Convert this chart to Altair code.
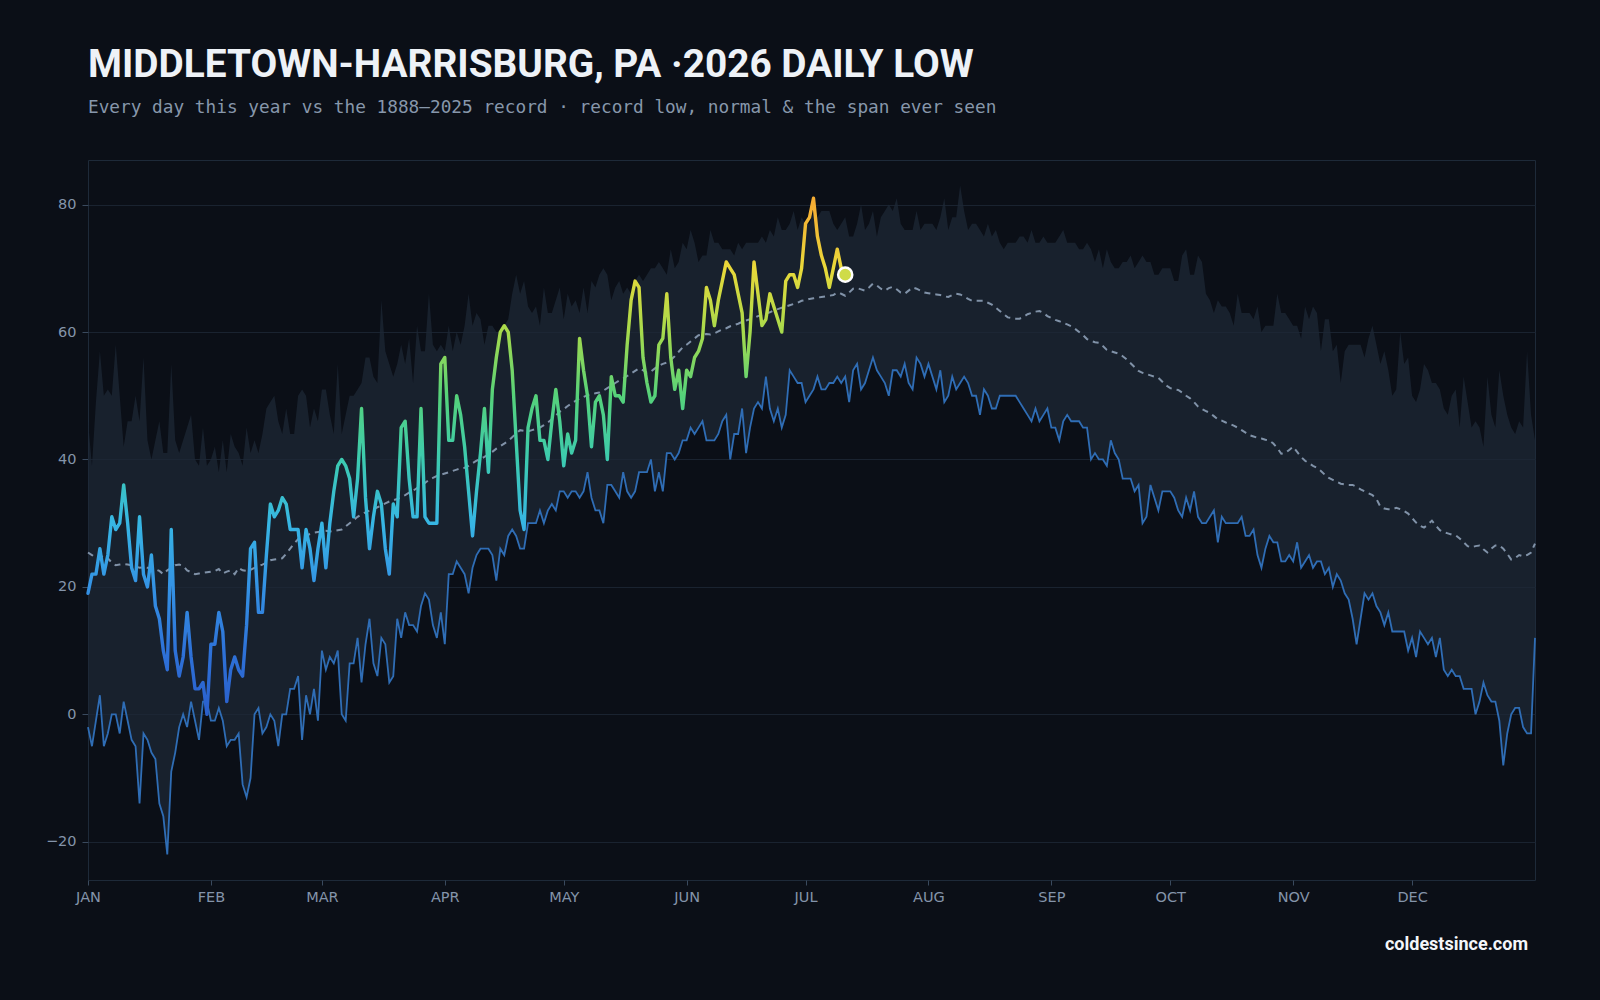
import altair as alt
import pandas as pd

TITLE = "MIDDLETOWN-HARRISBURG, PA ·2026 DAILY LOW"
SUBTITLE = "Every day this year vs the 1888–2025 record · record low, normal & the span ever seen"
FOOTER = "coldestsince.com"

MONTHS = ["JAN", "FEB", "MAR", "APR", "MAY", "JUN", "JUL", "AUG", "SEP", "OCT", "NOV", "DEC"]
MONTH_START = [0, 31, 59, 90, 120, 151, 181, 212, 243, 273, 304, 334]
Y_TICKS = [-20, 0, 20, 40, 60, 80]

# warmest low ever recorded for each day of year (top of the span)
RECORD_HIGH = [
    46, 39, 49, 57, 50, 51, 50, 58, 50, 42, 46, 46, 50, 46, 56, 43, 40, 43, 46, 41,
    41, 55, 43, 41, 43, 45, 47, 40, 39, 45, 39, 40, 42, 38, 43, 38, 44, 42, 41, 39,
    45, 41, 43, 41, 44, 48, 49, 50, 46, 44, 48, 44, 44, 50, 51, 50, 45, 48, 46, 51,
    51, 47, 44, 55, 44, 47, 50, 50, 51, 52, 56, 56, 53, 52, 65, 57, 55, 53, 55, 58,
    55, 59, 52, 61, 57, 57, 66, 58, 57, 58, 57, 61, 57, 60, 58, 61, 66, 61, 63, 62,
    58, 61, 61, 60, 60, 61, 62, 66, 69, 66, 68, 64, 63, 64, 61, 67, 63, 63, 65, 67,
    62, 66, 64, 65, 63, 67, 63, 68, 67, 69, 70, 69, 65, 67, 68, 66, 67, 66, 68, 69,
    68, 69, 70, 70, 71, 70, 69, 73, 70, 71, 74, 73, 76, 74, 71, 72, 72, 76, 74, 74,
    73, 73, 73, 72, 74, 73, 74, 74, 74, 74, 75, 74, 76, 75, 78, 76, 76, 77, 79, 76,
    78, 77, 77, 79, 78, 79, 79, 79, 77, 76, 77, 78, 75, 75, 77, 80, 76, 77, 79, 75,
    78, 79, 80, 79, 81, 77, 76, 76, 76, 79, 76, 77, 77, 77, 76, 78, 81, 76, 78, 78,
    83, 79, 76, 77, 77, 76, 75, 77, 75, 76, 74, 73, 74, 74, 74, 75, 75, 74, 76, 74,
    74, 75, 74, 74, 74, 75, 76, 74, 74, 74, 73, 73, 74, 73, 71, 73, 70, 73, 71, 70,
    70, 71, 71, 72, 70, 71, 72, 71, 71, 69, 69, 70, 70, 70, 68, 68, 72, 73, 69, 69,
    72, 71, 66, 65, 63, 65, 64, 64, 63, 61, 66, 63, 63, 63, 62, 64, 60, 61, 61, 61,
    66, 63, 63, 62, 61, 61, 59, 64, 62, 64, 63, 57, 62, 62, 57, 58, 52, 57, 58, 58,
    58, 58, 56, 59, 61, 58, 55, 57, 54, 50, 51, 60, 55, 56, 50, 49, 51, 55, 54, 52,
    52, 51, 48, 47, 50, 51, 45, 53, 49, 45, 46, 45, 42, 53, 47, 45, 54, 50, 47, 45,
    44, 46, 45, 57, 47, 43,
]

# record low for each day of year
RECORD_LOW = [
    -2, -5, -1, 3, -5, -3, 0, 0, -3, 2, -1, -4, -5, -14, -3, -4, -6, -7, -14, -16,
    -22, -9, -6, -2, 0, -2, 2, -1, -4, 2, 2, -1, -1, 1, -1, -5, -4, -4, -3, -11,
    -13, -10, 0, 1, -3, -2, 0, -1, -5, 0, 0, 4, 4, 6, -4, 3, 0, 4, -1, 10,
    7, 9, 8, 10, 0, -1, 8, 8, 12, 5, 11, 15, 8, 6, 12, 11, 5, 6, 15, 12,
    16, 14, 14, 13, 17, 19, 18, 14, 12, 16, 11, 22, 22, 24, 23, 22, 19, 23, 25, 26,
    26, 26, 25, 21, 26, 25, 28, 29, 28, 26, 26, 30, 30, 30, 32, 30, 32, 33, 32, 35,
    35, 34, 35, 35, 34, 35, 38, 34, 32, 32, 30, 36, 36, 35, 34, 38, 35, 34, 35, 38,
    38, 38, 40, 35, 38, 35, 41, 41, 40, 41, 43, 43, 45, 44, 45, 46, 43, 43, 43, 44,
    46, 47, 40, 44, 44, 48, 41, 45, 48, 49, 48, 53, 48, 46, 48, 45, 47, 54, 53, 52,
    52, 49, 50, 51, 53, 51, 51, 52, 52, 53, 52, 53, 49, 54, 55, 51, 52, 54, 56, 54,
    53, 52, 50, 54, 54, 53, 55, 52, 51, 56, 55, 53, 55, 53, 51, 54, 49, 50, 53, 51,
    52, 53, 52, 50, 50, 47, 51, 50, 48, 48, 50, 50, 50, 50, 50, 49, 48, 47, 46, 48,
    46, 47, 48, 45, 45, 43, 46, 47, 46, 46, 46, 45, 45, 40, 41, 40, 40, 39, 43, 41,
    40, 37, 37, 37, 35, 36, 30, 31, 36, 34, 32, 35, 35, 35, 34, 32, 31, 34, 32, 35,
    31, 30, 30, 31, 32, 27, 31, 30, 30, 30, 30, 31, 28, 28, 29, 25, 23, 26, 28, 27,
    27, 24, 24, 25, 24, 27, 23, 24, 25, 23, 24, 24, 22, 23, 20, 22, 21, 19, 18, 15,
    11, 15, 19, 18, 19, 17, 16, 14, 16, 13, 13, 13, 13, 10, 12, 9, 13, 12, 11, 12,
    9, 12, 7, 6, 7, 6, 6, 4, 4, 4, 0, 2, 5, 3, 2, 2, -1, -8, -3, 0,
    1, 1, -2, -3, -3, 12,
]

# normal daily low
NORMAL = [
    25.4, 25.0, 24.6, 24.5, 25.0, 24.5, 23.8, 23.4, 23.5, 23.6,
    23.5, 23.4, 23.2, 23.0, 23.1, 23.0, 22.9, 22.8, 22.5, 22.0,
    22.6, 23.0, 23.4, 23.5, 23.3, 22.6, 22.3, 22.0, 22.1, 22.2,
    22.3, 22.4, 22.5, 22.8, 22.1, 22.4, 22.6, 22.0, 23.0, 22.6,
    22.5, 22.7, 23.0, 23.3, 23.5, 23.8, 24.2, 24.3, 24.4, 24.5,
    25.2, 26.0, 26.8, 27.5, 27.8, 28.0, 28.3, 28.5, 28.6, 28.8,
    28.8, 28.7, 28.8, 28.9, 29.0, 29.5, 30.0, 30.5, 31.0, 31.4,
    31.7, 32.0, 32.2, 32.5, 32.8, 33.1, 33.4, 33.6, 33.8, 34.1,
    34.4, 34.8, 35.1, 35.5, 35.9, 36.3, 36.8, 37.1, 37.4, 37.6,
    37.8, 38.0, 38.2, 38.4, 38.6, 38.7, 39.0, 39.4, 39.8, 40.1,
    40.4, 40.8, 41.2, 41.7, 42.1, 42.5, 42.9, 43.5, 44.1, 44.6,
    44.5, 44.4, 44.6, 44.8, 45.0, 45.4, 45.8, 46.3, 46.9, 47.5,
    47.9, 48.4, 48.8, 49.2, 49.6, 49.8, 50.1, 50.2, 50.4, 50.5,
    50.8, 51.2, 51.6, 52.0, 52.4, 52.7, 53.1, 53.5, 53.9, 54.3,
    54.0, 53.6, 53.8, 54.3, 54.7, 55.0, 55.2, 55.6, 56.2, 56.9,
    57.6, 58.0, 58.5, 59.0, 59.5, 59.6, 59.7, 59.6, 59.8, 60.1,
    60.4, 60.6, 60.9, 61.1, 61.3, 61.6, 61.8, 62.0, 62.2, 62.5,
    62.7, 62.9, 63.1, 63.4, 63.6, 63.8, 64.0, 64.2, 64.4, 64.6,
    64.9, 65.0, 65.2, 65.3, 65.4, 65.5, 65.6, 65.7, 65.8, 66.2,
    66.0, 65.7, 66.2, 66.8, 66.9, 66.7, 66.5, 67.0, 67.6, 67.3,
    66.8, 66.5, 66.9, 67.1, 66.7, 66.2, 66.0, 66.5, 67.0, 66.8,
    66.5, 66.2, 66.1, 66.0, 65.9, 65.8, 65.6, 65.5, 65.8, 66.0,
    65.9, 65.6, 65.2, 64.9, 64.9, 64.9, 64.9, 64.6, 64.3, 63.8,
    63.3, 62.8, 62.3, 62.2, 62.1, 62.1, 62.4, 62.8, 63.0, 63.2,
    63.3, 63.0, 62.5, 62.2, 61.9, 61.7, 61.4, 61.2, 60.9, 60.5,
    60.0, 59.5, 58.9, 58.6, 58.4, 58.3, 57.8, 57.2, 57.0, 56.8,
    56.6, 56.2, 55.7, 55.1, 54.5, 53.9, 53.6, 53.4, 53.2, 53.0,
    52.8, 52.2, 51.6, 51.2, 51.0, 50.9, 50.5, 50.0, 49.6, 49.0,
    48.3, 47.9, 47.6, 47.3, 46.8, 46.3, 46.1, 45.8, 45.6, 45.3,
    45.0, 44.6, 44.2, 43.8, 43.6, 43.4, 43.3, 43.1, 43.0, 42.5,
    41.8, 40.9, 41.0, 41.5, 42.0, 41.2, 40.4, 39.8, 39.4, 39.0,
    38.7, 38.2, 37.6, 37.1, 36.8, 36.5, 36.2, 36.1, 36.0, 36.0,
    35.7, 35.3, 35.0, 34.7, 34.4, 33.8, 32.6, 32.3, 32.2, 32.2,
    32.4, 32.2, 31.9, 31.5, 30.8, 30.1, 29.6, 29.3, 29.8, 30.4,
    29.6, 28.9, 28.6, 28.4, 28.2, 28.1, 27.6, 27.0, 26.4, 26.2,
    26.4, 26.5, 25.9, 25.4, 26.0, 26.5, 26.5, 26.0, 25.2, 24.3,
    24.5, 25.0, 24.8, 25.0, 25.4, 26.8,
]

# 2026 observed daily lows, Jan 1 .. Jul 11
OBS_2026 = [
    19, 22, 22, 26, 22, 25, 31, 29, 30, 36, 30, 23, 21, 31, 22, 20, 25, 17, 15, 10,
    7, 29, 10, 6, 9, 16, 9, 4, 4, 5, 0, 11, 11, 16, 13, 2, 7, 9, 7, 6,
    14, 26, 27, 16, 16, 25, 33, 31, 32, 34, 33, 29, 29, 29, 23, 29, 26, 21, 26, 30,
    23, 30, 35, 39, 40, 39, 37, 31, 37, 48, 34, 26, 31, 35, 33, 26, 22, 33, 31, 45,
    46, 37, 31, 31, 48, 31, 30, 30, 30, 55, 56, 43, 43, 50, 47, 42, 35, 28, 35, 41,
    48, 38, 51, 56, 60, 61, 60, 54, 43, 32, 29, 45, 48, 50, 43, 43, 40, 46, 51, 46,
    39, 44, 41, 43, 59, 54, 50, 42, 49, 50, 47, 40, 53, 50, 50, 49, 58, 65, 68, 67,
    56, 52, 49, 50, 58, 59, 66, 56, 51, 54, 48, 54, 53, 56, 57, 59, 67, 65, 61, 65,
    68, 71, 70, 69, 66, 63, 53, 60, 71, 66, 61, 62, 66, 64, 62, 60, 68, 69, 69, 67,
    70, 77, 78, 81, 75, 72, 70, 67, 70, 73, 70, 69,
]

# colour ramp of the 2026 line by temperature
RAMP_TEMPS = [0, 10, 20, 30, 40, 50, 60, 70, 80]
RAMP_COLORS = ["#2a5fcc", "#2e72d8", "#3492e4", "#37b6e4", "#3ccbb0",
               "#55d27a", "#a6da4c", "#e9d93a", "#f6ad33"]

BG = "#0b0f17"
BAND = "#1d2836"
GRID = "#1a2330"
AXIS_TEXT = "#8494aa"

clim = pd.DataFrame({
    "day": list(range(len(RECORD_LOW))),
    "lo": RECORD_LOW,
    "hi": RECORD_HIGH,
    "normal": NORMAL,
})
obs = pd.DataFrame({"day": list(range(len(OBS_2026))), "temp": OBS_2026})
last = obs.tail(1)

tmin, tmax = min(OBS_2026), max(OBS_2026)
stops = []
for t, c in zip(RAMP_TEMPS, RAMP_COLORS):
    off = (t - tmin) / (tmax - tmin)
    off = max(0.0, min(1.0, off))
    stops.append(alt.GradientStop(offset=off, color=c))

W, H = 1447, 720
xs = alt.Scale(domain=[0, 365], nice=False, zero=False)
ys = alt.Scale(domain=[-26, 87], nice=False, zero=False)

month_arr = "[" + ",".join(f"'{m}'" for m in MONTHS) + "]"
start_arr = "[" + ",".join(str(s) for s in MONTH_START) + "]"
x_axis = alt.Axis(
    values=MONTH_START,
    labelExpr=f"{month_arr}[indexof({start_arr}, datum.value)]",
    grid=False, domain=False, ticks=True, tickSize=5, tickColor="#3a4a5e",
    labelColor=AXIS_TEXT, labelFont="DejaVu Sans", labelFontSize=14.5, labelPadding=5,
    labelFlush=False, labelOverlap=False, title=None,
)
y_axis = alt.Axis(
    values=Y_TICKS, grid=True, gridColor=GRID, gridWidth=1, domain=False,
    ticks=True, tickSize=6, tickColor="#3a4a5e",
    labelColor=AXIS_TEXT, labelFont="DejaVu Sans", labelFontSize=14.5, labelPadding=6,
    title=None,
)


def X():
    return alt.X("day:Q", scale=xs, axis=x_axis)


def Y(field):
    return alt.Y(f"{field}:Q", scale=ys, axis=y_axis)


band = alt.Chart(clim).mark_area(color=BAND, opacity=0.72).encode(
    x=X(), y=Y("lo"), y2="hi:Q",
)

normal = alt.Chart(clim).mark_line(
    color="#8092a8", strokeWidth=2, strokeDash=[6, 5]
).encode(x=X(), y=Y("normal"))

rec_low = alt.Chart(clim).mark_line(color="#2f6db5", strokeWidth=1.8).encode(
    x=X(), y=Y("lo"),
)

line26 = alt.Chart(obs).mark_line(
    stroke=alt.Gradient(gradient="linear", stops=stops, x1=0, x2=0, y1=1, y2=0),
    strokeWidth=3.4, strokeJoin="round", strokeCap="round",
).encode(x=X(), y=Y("temp"))

dot = alt.Chart(last).mark_circle(
    size=200, color="#cfdb48", opacity=1, stroke="#ffffff", strokeWidth=2.5
).encode(x=X(), y=Y("temp"))

title = alt.Chart(pd.DataFrame({"t": [TITLE]})).mark_text(
    align="left", baseline="alphabetic", font="Roboto", fontWeight=700,
    fontSize=38.8, color="#eef2f7",
).encode(x=alt.value(0), y=alt.value(-83), text="t:N")

subtitle = alt.Chart(pd.DataFrame({"t": [SUBTITLE]})).mark_text(
    align="left", baseline="alphabetic", font="DejaVu Sans Mono",
    fontSize=17.75, color="#8797ab",
).encode(x=alt.value(0), y=alt.value(-47), text="t:N")

footer = alt.Chart(pd.DataFrame({"t": [FOOTER]})).mark_text(
    align="right", baseline="alphabetic", font="Roboto", fontWeight=700,
    fontSize=18, color="#f4f6fa",
).encode(x=alt.value(1440), y=alt.value(790), text="t:N")

chart = alt.layer(band, normal, rec_low, line26, dot, title, subtitle, footer).properties(
    width=W, height=H,
    padding={"left": 88, "top": 160, "right": 65, "bottom": 120},
    autosize=alt.AutoSizeParams(type="none"),
    background=BG,
).configure_view(
    stroke="#1e2a39", strokeWidth=1, fill=BG,
)

chart.save("out.html", embed_options={"renderer": "svg", "actions": False})
